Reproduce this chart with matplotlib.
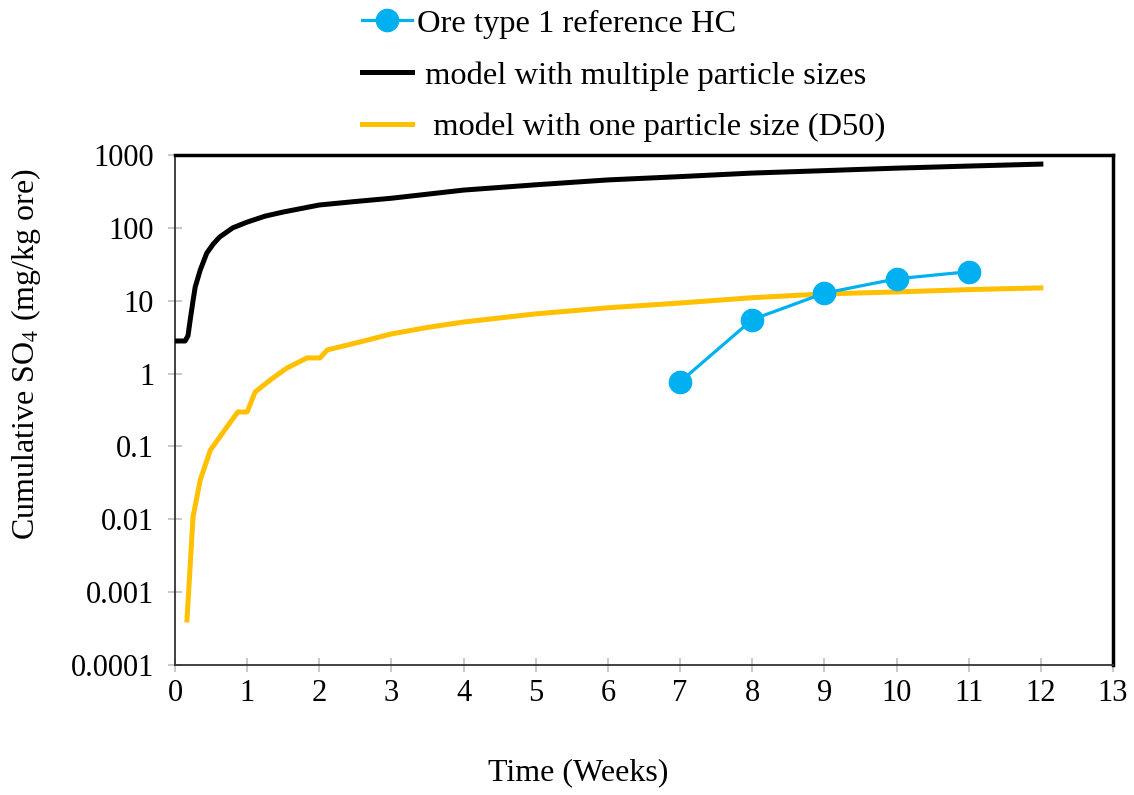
import numpy as np
import matplotlib.pyplot as plt

plt.rcParams['font.family'] = ['Liberation Serif', 'DejaVu Serif']
plt.rcParams['mathtext.fontset'] = 'stix'

# measured HC data
hc_weeks = [7, 8, 9, 10, 11]
hc_so4 = [0.77, 5.5, 12.7, 20, 25]

# model with multiple particle sizes
multi_weeks = [0.0, 0.14, 0.18, 0.21, 0.25, 0.28, 0.35, 0.44, 0.53, 0.62, 0.8, 1.0, 1.25, 1.5,
               2.0, 2.5, 3.0, 4.0, 5.0, 6.0, 7.0, 8.0, 9.0, 10.0, 11.0, 12.0]
multi_so4 = [2.8, 2.8, 3.3, 5.4, 10, 15.4, 26.4, 45, 60, 75, 100, 120, 145, 165,
             206, 230, 255, 330, 390, 455, 505, 565, 610, 660, 705, 750]

# model with one particle size (D50)
d50_weeks = [0.166, 0.25, 0.35, 0.49, 0.72, 0.87, 1.0, 1.11, 1.32, 1.55, 1.83, 2.01, 2.11,
             2.56, 3.0, 3.5, 4.0, 4.5, 5.0, 6.0, 7.0, 8.0, 9.0, 10.0, 11.0, 12.0]
d50_so4 = [0.000415, 0.0108, 0.0346, 0.089, 0.185, 0.297, 0.297, 0.558, 0.817, 1.19, 1.64,
           1.64, 2.11, 2.71, 3.5, 4.3, 5.1, 5.8, 6.6, 8.0, 9.3, 11.0, 12.4, 13.2, 14.2, 15.0]

ytick_vals = [0.0001, 0.001, 0.01, 0.1, 1, 10, 100, 1000]
ytick_labels = ['0.0001', '0.001', '0.01', '0.1', '1', '10', '100', '1000']

fig = plt.figure(figsize=(11.34, 7.95), dpi=100)
ax = fig.add_axes([175 / 1134, 1 - 665 / 795, (1113 - 175) / 1134, (665 - 155) / 795])

l1, = ax.plot(hc_weeks, hc_so4, color='#00B0F0', lw=2.3, marker='o', markersize=16,
              label='Ore type 1 reference HC', zorder=4)
l2, = ax.plot(multi_weeks, multi_so4, color='black', lw=3.6, solid_joinstyle='round',
              label=' model with multiple particle sizes', zorder=3)
l3, = ax.plot(d50_weeks, d50_so4, color='#FFC000', lw=3.6, solid_joinstyle='round',
              label='  model with one particle size (D50)', zorder=3)

ax.set_yscale('log')
ax.set_ylim(0.0001, 1000)
ax.set_xlim(0, 13)
ax.set_yticks(ytick_vals)
ax.set_yticklabels(ytick_labels)
ax.minorticks_off()
ax.set_xticks(range(0, 14))

ax.tick_params(axis='both', direction='inout', length=10, width=1.2, color='#bfbfbf',
               labelsize=22, pad=5)
ax.tick_params(axis='y', pad=10)

for s in ['top', 'right']:
    ax.spines[s].set_linewidth(2.5)
    ax.spines[s].set_color('black')
for s in ['left', 'bottom']:
    ax.spines[s].set_linewidth(1.3)
    ax.spines[s].set_color('#333333')

fig.text(578 / 1134, 1 - 773 / 795, 'Time (Weeks)', fontsize=23, ha='center', va='center')
fig.text(26 / 1134, 1 - 354 / 795, 'Cumulative SO$_4$ (mg/kg ore)', fontsize=23,
         ha='center', va='center', rotation=90)

fig.legend(handles=[l1, l2, l3], loc='upper left', bbox_to_anchor=(362 / 1134, 1 - 9 / 795),
           frameon=False, fontsize=23.4, handlelength=1.55, handletextpad=0.15,
           labelspacing=0.68, borderpad=0, borderaxespad=0)

plt.savefig('out.png', dpi=100)
